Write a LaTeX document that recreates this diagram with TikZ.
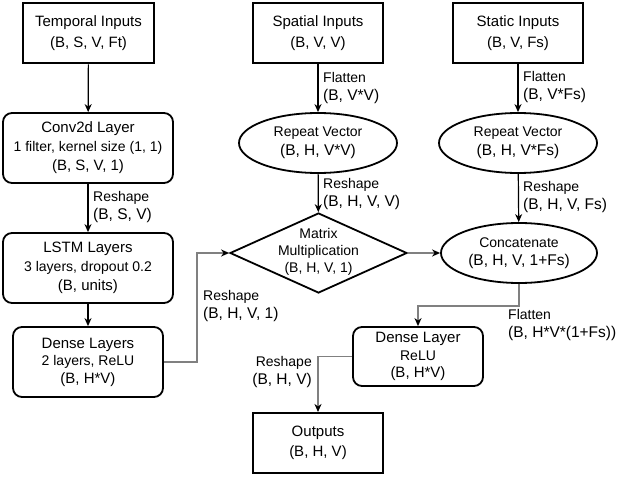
\documentclass[tikz,border=0pt]{standalone}
\usepackage{fontspec}
\setmainfont{Liberation Sans}
\usetikzlibrary{shapes.geometric,arrows.meta}
\newcommand\bigft{\fontsize{15}{19}\selectfont}
\newcommand\smft{\fontsize{14}{19}\selectfont}
\newcommand\tupft{\fontsize{15.5}{19}\selectfont}
\begin{document}
\begin{tikzpicture}[x=1pt,y=-1pt,
  sqbox/.style={draw, line width=2pt, minimum width=131pt, minimum height=60pt, inner sep=0pt, align=center, font=\fontsize{15}{20.5}\selectfont},
  rbox/.style={draw, line width=1.8pt, rounded corners=9pt, inner sep=0pt, align=center, font=\bigft},
  ell/.style={draw, ellipse, line width=1.8pt, minimum width=158pt, minimum height=60pt, inner sep=0pt, align=center, font=\fontsize{15}{18.5}\selectfont},
  dia/.style={draw, diamond, line width=1.8pt, minimum width=177pt, minimum height=80pt, inner sep=0pt},
  txt/.style={inner sep=0pt, align=center},
  lab/.style={inner sep=0pt, align=left, anchor=west, font=\fontsize{15}{18.5}\selectfont},
  labr/.style={inner sep=0pt, align=right, anchor=east, font=\fontsize{15}{18.5}\selectfont},
  tip/.style={-{Stealth[length=8pt,width=7pt,inset=2.5pt,black]}},
  blk/.style={tip, line width=1.2pt, black},
  gry/.style={tip, line width=1.6pt, gray},
]
\useasboundingbox (0,0) rectangle (631,476);

% input boxes
\node[sqbox, line width=2.6pt] (tin) at (88.5,33) {Temporal Inputs\\(B, S, V, Ft)};
\node[sqbox, minimum width=130pt] (sin) at (318,33) {Spatial Inputs\\(B, V, V)};
\node[sqbox, minimum width=130pt] (stin) at (518,33) {Static Inputs\\(B, V, Fs)};

% left column
\node[rbox, minimum width=170pt, minimum height=70pt] (conv) at (88,148)
  {Conv2d Layer\\{\smft 1 filter, kernel size (1, 1)}\\(B, S, V, 1)};
\node[rbox, minimum width=170pt, minimum height=70pt] (lstm) at (88,268)
  {LSTM Layers\\{\smft 3 layers, dropout 0.2}\\(B, units)};
\node[rbox, minimum width=150pt, minimum height=70pt, font=\fontsize{15}{17.5}\selectfont] (dense) at (88,362)
  {Dense Layers\\{\fontsize{14}{17.5}\selectfont 2 layers, ReLU}\\(B, H*V)};

% repeat vectors
\node[ell] (rep1) at (318,143) {\makebox[60pt]{\smft Repeat Vector}\\\makebox[60pt]{\tupft (B, H, V*V)}};
\node[ell] (rep2) at (518,143) {\makebox[60pt]{\smft Repeat Vector}\\\makebox[60pt]{\tupft (B, H, V*Fs)}};

% matrix multiplication
\node[dia] (mm) at (318.5,253) {};
\node[txt, font=\fontsize{14}{17}\selectfont] (mmt) at (318.5,252) {Matrix\\Multiplication\\(B, H, V, 1)};

% concatenate
\node[ell, minimum width=156pt] (conc) at (519,253) {\makebox[60pt]{\smft Concatenate}\\\makebox[60pt]{\tupft (B, H, V, 1+Fs)}};

% dense layer right
\node[rbox, minimum width=130pt, minimum height=59pt, font=\fontsize{15}{17.5}\selectfont] (dl) at (418,356.5)
  {Dense Layer\\{\fontsize{14}{17.5}\selectfont ReLU}\\(B, H*V)};

% outputs
\node[sqbox, minimum width=130pt] (out) at (318,443) {Outputs\\(B, H, V)};

% connectors
\draw[blk] (tin) -- (conv);
\draw[blk] (conv) -- (lstm);
\draw[blk] (lstm) -- (dense);
\draw[blk] (sin) -- (rep1);
\draw[blk] (rep1) -- (mm);
\draw[blk] (stin) -- (rep2);
\draw[blk] (rep2) -- (conc);
\draw[gry] (dense.east) -- ++(33,0) |- (mm.west);
\draw[gry] (mm.east) -- (conc.west);
\draw[gry] (conc.south) -- ++(0,22) -| (dl.north);
\draw[gry] (dl.west) -| (out.north);

% labels
\node[lab] (l1) at (93,207) {{\smft Reshape}\\{\tupft (B, S, V)}};
\node[lab] (l2) at (323,88) {{\smft Flatten}\\{\tupft (B, V*V)}};
\node[lab] (l3) at (323,194) {{\smft Reshape}\\{\tupft (B, H, V, V)}};
\node[lab] (l4) at (523,87) {{\smft Flatten}\\{\tupft (B, V*Fs)}};
\node[lab] (l5) at (523,197) {{\smft Reshape}\\{\tupft (B, H, V, Fs)}};
\node[lab] (l6) at (203,306) {{\smft Reshape}\\{\tupft (B, H, V, 1)}};
\node[lab] (l7) at (508,325) {{\smft Flatten}\\{\tupft (B, H*V*(1+Fs))}};
\node[labr] (l8) at (312,372) {{\smft Reshape}\\{\tupft (B, H, V)}};
\end{tikzpicture}
\end{document}
